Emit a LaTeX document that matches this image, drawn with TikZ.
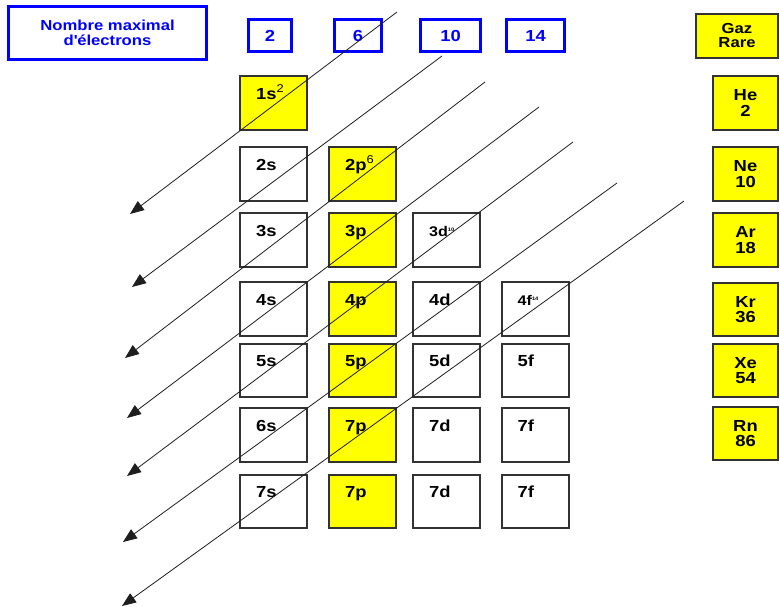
\documentclass[tikz,border=0pt]{standalone}
\usepackage{fontspec}
\setmainfont{Liberation Sans}[FakeStretch=1.15]
\usetikzlibrary{arrows.meta,calc}

\definecolor{edgegray}{RGB}{50,50,50}
\definecolor{raygray}{RGB}{30,30,30}
\definecolor{cellyellow}{RGB}{255,255,0}
\definecolor{headblue}{RGB}{0,0,255}

\tikzset{
  cell/.style={draw=edgegray, line width=2pt, fill=white,
    minimum width=67pt, minimum height=53.5pt, inner sep=0pt},
  fullcell/.style={cell, fill=cellyellow},
  gascell/.style={fullcell, minimum width=65.5pt, align=center,
    font=\fontsize{16}{15.5}\selectfont\bfseries},
  headbox/.style={draw=headblue, line width=2.8pt, text=headblue,
    inner sep=0pt, align=center, font=\fontsize{16}{16}\selectfont\bfseries},
  sublabel/.style={anchor=base west, inner sep=0pt,
    font=\fontsize{16}{16}\selectfont\bfseries},
  smalllabel/.style={sublabel, font=\fontsize{14}{14}\selectfont\bfseries},
  ray/.style={draw=raygray, line width=0.8pt,
    -{Triangle[length=14pt,width=11pt]}},
}

% one sub-shell cell: name, centre x, centre y, cell style, label style, label
\newcommand{\subshell}[6]{%
  \node[#4] (#1) at (#2,#3) {};
  \node[#5] (#1-t) at ($(#1.north west)+(17,24)$) {#6};
}

\begin{document}
\begin{tikzpicture}[x=1pt,y=-1pt]
\useasboundingbox (0,0) rectangle (780,607);

% header row
\node[headbox, minimum width=198pt, minimum height=53pt,
  font=\fontsize{14.5}{15.5}\selectfont\bfseries]
  (nmax) at (107.5,33) {Nombre maximal\\d\textquotesingle électrons};
\node[headbox, minimum width=43pt, minimum height=32pt] (ns) at (270,35.5) {2};
\node[headbox, minimum width=47pt, minimum height=32pt] (np) at (358,35.5) {6};
\node[headbox, minimum width=60pt, minimum height=32pt] (nd) at (450.5,35.5) {10};
\node[headbox, minimum width=58pt, minimum height=32pt] (nf) at (535.5,35.5) {14};
\node[fullcell, minimum width=82pt, minimum height=44pt, align=center,
  font=\fontsize{14.5}{14}\selectfont\bfseries]
  (gaz) at (737,36) {Gaz\\Rare};

% sub-shell cells
\subshell{c1s}{273.5}{103}{fullcell}{sublabel}{1s\textsuperscript{\mdseries 2}}

\subshell{c2s}{273.5}{174}{cell}{sublabel}{2s}
\subshell{c2p}{362.5}{174}{fullcell}{sublabel}{2p\textsuperscript{\mdseries 6}}

\subshell{c3s}{273.5}{240}{cell}{sublabel}{3s}
\subshell{c3p}{362.5}{240}{fullcell}{sublabel}{3p}
\subshell{c3d}{446.5}{240}{cell}{smalllabel}{3d\textsuperscript{\tiny 10}}

\subshell{c4s}{273.5}{309}{cell}{sublabel}{4s}
\subshell{c4p}{362.5}{309}{fullcell}{sublabel}{4p}
\subshell{c4d}{446.5}{309}{cell}{sublabel}{4d}
\subshell{c4f}{535}{309}{cell}{smalllabel}{4f\textsuperscript{\tiny 14}}

\subshell{c5s}{273.5}{370.5}{cell}{sublabel}{5s}
\subshell{c5p}{362.5}{370.5}{fullcell}{sublabel}{5p}
\subshell{c5d}{446.5}{370.5}{cell}{sublabel}{5d}
\subshell{c5f}{535}{370.5}{cell}{sublabel}{5f}

\subshell{c6s}{273.5}{435}{cell}{sublabel}{6s}
\subshell{c6p}{362.5}{435}{fullcell}{sublabel}{7p}
\subshell{c6d}{446.5}{435}{cell}{sublabel}{7d}
\subshell{c6f}{535}{435}{cell}{sublabel}{7f}

\subshell{c7s}{273.5}{501.5}{cell}{sublabel}{7s}
\subshell{c7p}{362.5}{501.5}{fullcell}{sublabel}{7p}
\subshell{c7d}{446.5}{501.5}{cell}{sublabel}{7d}
\subshell{c7f}{535}{501.5}{cell}{sublabel}{7f}

% noble gases
\node[gascell, minimum height=54pt] (he) at (745.5,103) {He\\2};
\node[gascell] (ne) at (745.5,174) {Ne\\10};
\node[gascell] (ar) at (745.5,240) {Ar\\18};
\node[gascell] (kr) at (745.5,309.5) {Kr\\36};
\node[gascell] (xe) at (745.5,370.5) {Xe\\54};
\node[gascell] (rn) at (745.5,433.5) {Rn\\86};

% filling-order diagonals
\coordinate (r1a) at (397,12);  \coordinate (r1b) at (130,214);
\coordinate (r2a) at (442,56);  \coordinate (r2b) at (132,287);
\coordinate (r3a) at (485,82);  \coordinate (r3b) at (125,358);
\coordinate (r4a) at (539,107); \coordinate (r4b) at (127,418);
\coordinate (r5a) at (573,142); \coordinate (r5b) at (127,476);
\coordinate (r6a) at (617,183); \coordinate (r6b) at (123,542);
\coordinate (r7a) at (684,201); \coordinate (r7b) at (122,606);
\foreach \i in {1,...,7} \draw[ray] (r\i a) -- (r\i b);
\end{tikzpicture}
\end{document}
